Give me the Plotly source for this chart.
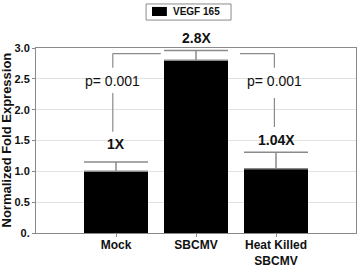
import plotly.graph_objects as go

categories = ["Mock", "SBCMV", "Heat Killed"]
tick_labels = ["Mock", "SBCMV", "Heat Killed<br>SBCMV"]
values = [1.0, 2.8, 1.04]
errors_up = [0.15, 0.16, 0.27]
fold_labels = ["1X", "2.8X", "1.04X"]
p_labels = ["p= 0.001", "p= 0.001"]
series_name = "VEGF 165"
y_ticks = [0, 0.5, 1.0, 1.5, 2.0, 2.5, 3.0]
y_tick_labels = ["0.", "0.5", "1.0", "1.5", "2.0", "2.5", "3.0"]

FONT = "Liberation Sans, Arial, sans-serif"
GRAY = "#8a8a8a"

fig = go.Figure()
fig.add_trace(go.Bar(
    x=[0, 1, 2], y=values, name=series_name, width=0.8,
    marker=dict(color="black", line=dict(width=0)),
    error_y=dict(type="data", array=errors_up, arrayminus=[0, 0, 0],
                 color=GRAY, thickness=1.5, width=32),
    showlegend=False,
))

# fold-change labels (above each error bar)
label_shift = [18, 12, 12]
for i, (t, v, e, s) in enumerate(zip(fold_labels, values, errors_up, label_shift)):
    fig.add_annotation(x=i, y=v + e, yshift=s, text="<b>%s</b>" % t, showarrow=False,
                       font=dict(family=FONT, size=14, color="#111"),
                       xref="x", yref="y", yanchor="middle")

# significance brackets
br_y = 2.91
brackets = [  # (vertical x, horizontal end x, lower segment bottom, lower top)
    (-0.04, 0.56, 1.64, 2.27),
    (1.98, 1.55, 1.72, 2.19),
]
for (vx, hx, lb, lt), pl in zip(brackets, p_labels):
    line = dict(color=GRAY, width=1.2)
    fig.add_shape(type="line", x0=vx, x1=hx, y0=br_y, y1=br_y, line=line, xref="x", yref="y")
    fig.add_shape(type="line", x0=vx, x1=vx, y0=br_y, y1=2.68, line=line, xref="x", yref="y")
    fig.add_shape(type="line", x0=vx, x1=vx, y0=lb, y1=lt, line=line, xref="x", yref="y")
    fig.add_annotation(x=vx, y=2.46, text=pl, showarrow=False,
                       font=dict(family=FONT, size=14, color="#111"),
                       xref="x", yref="y")

# legend box (drawn manually to match compact size)
fig.add_shape(type="rect", xref="paper", yref="paper", x0=0.344, x1=0.6095, y0=1.151, y1=1.238,
              line=dict(color=GRAY, width=1), fillcolor="white")
fig.add_shape(type="rect", xref="paper", yref="paper", x0=0.3625, x1=0.409, y0=1.173, y1=1.222,
              line=dict(color="black", width=0), fillcolor="black")
fig.add_annotation(xref="paper", yref="paper", x=0.423, y=1.195, xanchor="left", yanchor="middle",
                   text="<b>%s</b>" % series_name, showarrow=False,
                   font=dict(family=FONT, size=10, color="#111"))

# y-axis title
fig.add_annotation(xref="paper", yref="paper", x=0, y=0.5, xshift=-30, textangle=-90,
                   text="<b>Normalized Fold Expression</b>", showarrow=False,
                   xanchor="center", yanchor="middle",
                   font=dict(family=FONT, size=13, color="#111"))

fig.update_layout(
    width=358, height=268,
    margin=dict(l=36, r=2, t=48, b=35),
    paper_bgcolor="white", plot_bgcolor="white",
    font=dict(family=FONT, color="#111"),
    showlegend=False,
    xaxis=dict(range=[-1, 3], tickvals=[0, 1, 2], ticktext=["<b>%s</b>" % t for t in tick_labels],
               showline=True, linecolor=GRAY, linewidth=1, mirror=True,
               ticks="outside", ticklen=3, tickcolor=GRAY, ticklabelstandoff=-2,
               showgrid=False, zeroline=False, automargin=False,
               tickfont=dict(family=FONT, size=12, color="#111")),
    yaxis=dict(range=[0, 3], tickvals=y_ticks, ticktext=["<b>%s</b>" % t for t in y_tick_labels],
               showline=True, linecolor=GRAY, linewidth=1, mirror=True,
               ticks="outside", ticklen=3, tickcolor=GRAY,
               showgrid=True, gridcolor="#e2e2e2", gridwidth=1, zeroline=False,
               automargin=False,
               tickfont=dict(family=FONT, size=11, color="#111")),
)

fig.write_html("out.html", config={"displayModeBar": False},
               post_script="document.body.style.margin='0';document.body.style.overflow='hidden';")
